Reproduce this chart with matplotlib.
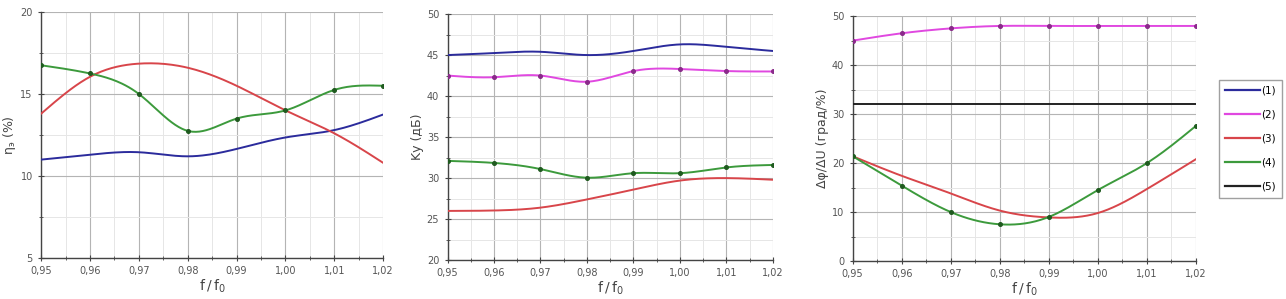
# frequency characteristics: efficiency, gain, phase/amplitude ratio

import numpy as np
import matplotlib
matplotlib.use('Agg')
import matplotlib.pyplot as plt
from matplotlib.ticker import FuncFormatter, MultipleLocator
from matplotlib.lines import Line2D

plt.rcParams['font.family'] = ['DejaVu Sans']

f_ratio = [0.95, 0.96, 0.97, 0.98, 0.99, 1.00, 1.01, 1.02]

# efficiency, %
eta_1 = [11.0, 11.3, 11.45, 11.2, 11.65, 12.35, 12.8, 13.75]
eta_3 = [13.8, 16.05, 16.85, 16.6, 15.5, 14.0, 12.6, 10.8]
eta_4 = [16.75, 16.25, 15.0, 12.75, 13.5, 14.0, 15.25, 15.5]

# gain Ky, dB
ky_1 = [45.0, 45.25, 45.4, 45.0, 45.5, 46.3, 46.0, 45.5]
ky_2 = [42.5, 42.3, 42.5, 41.75, 43.05, 43.3, 43.05, 43.0]
ky_3 = [26.0, 26.05, 26.4, 27.4, 28.6, 29.7, 30.0, 29.8]
ky_4 = [32.1, 31.85, 31.1, 30.05, 30.6, 30.6, 31.3, 31.6]

# phase / amplitude ratio, deg/%
dp_2 = [45.0, 46.5, 47.5, 48.0, 48.0, 48.0, 48.0, 48.0]
dp_3 = [21.4, 17.4, 13.8, 10.3, 8.9, 9.8, 14.7, 20.8]
dp_4 = [21.4, 15.4, 10.0, 7.5, 9.0, 14.5, 20.0, 27.6]
dp_5 = 32.0

legend_labels = ['(1)', '(2)', '(3)', '(4)', '(5)']
colors = {1: '#2b2b9c', 2: '#e048e0', 3: '#d8454a', 4: '#3c9a3c', 5: '#222222'}
marker_colors = {2: '#8a2a8a', 4: '#1f5a1f'}


def spline(x, y, n=200):
    """natural cubic spline, for drawing smooth curves through the points"""
    x = np.asarray(x, float)
    y = np.asarray(y, float)
    k = len(x)
    h = np.diff(x)
    A = np.zeros((k, k))
    b = np.zeros(k)
    A[0, 0] = A[-1, -1] = 1
    for i in range(1, k - 1):
        A[i, i - 1] = h[i - 1]
        A[i, i] = 2 * (h[i - 1] + h[i])
        A[i, i + 1] = h[i]
        b[i] = 3 * ((y[i + 1] - y[i]) / h[i] - (y[i] - y[i - 1]) / h[i - 1])
    c = np.linalg.solve(A, b)
    xs = np.linspace(x[0], x[-1], n)
    ys = np.empty_like(xs)
    for j, xv in enumerate(xs):
        i = min(np.searchsorted(x, xv, side='right') - 1, k - 2)
        dx = xv - x[i]
        bb = (y[i + 1] - y[i]) / h[i] - h[i] * (2 * c[i] + c[i + 1]) / 3
        d = (c[i + 1] - c[i]) / (3 * h[i])
        ys[j] = y[i] + bb * dx + c[i] * dx ** 2 + d * dx ** 3
    return xs, ys


def draw(ax, y, num):
    xs, ys = spline(f_ratio, y)
    ax.plot(xs, ys, color=colors[num], lw=1.4, zorder=3)
    if num in marker_colors:
        ax.plot(f_ratio, y, 'o', ms=2.6, color=marker_colors[num], zorder=4)


def style(ax, ylim, ystep, ylabel):
    ax.set_xlim(0.95, 1.02)
    ax.set_ylim(*ylim)
    ax.xaxis.set_major_locator(MultipleLocator(0.01))
    ax.xaxis.set_minor_locator(MultipleLocator(0.005))
    ax.yaxis.set_major_locator(MultipleLocator(ystep))
    ax.yaxis.set_minor_locator(MultipleLocator(ystep / 2))
    ax.xaxis.set_major_formatter(FuncFormatter(lambda v, p: f'{v:.2f}'.replace('.', ',')))
    ax.yaxis.set_major_formatter(FuncFormatter(lambda v, p: f'{v:g}'))
    ax.grid(which='major', color='#b4b4b4', lw=0.8)
    ax.grid(which='minor', color='#e6e6e6', lw=0.7)
    for s in ('top', 'right'):
        ax.spines[s].set_visible(False)
    for s in ('left', 'bottom'):
        ax.spines[s].set_color('#444444')
        ax.spines[s].set_linewidth(1.0)
    ax.tick_params(which='major', direction='inout', length=5, width=0.8,
                   labelsize=7, colors='#444444', labelcolor='#555555')
    ax.tick_params(which='minor', direction='inout', length=3, width=0.6, colors='#444444')
    ax.set_ylabel(ylabel, fontsize=9, color='#444444', labelpad=2)
    ax.set_xlabel(r'$\mathregular{f\,/\,f_0}$', fontsize=10, color='#444444', labelpad=1)


fig = plt.figure(figsize=(12.86, 2.99), dpi=100)

ax1 = fig.add_axes([0.032, 0.137, 0.266, 0.823])
draw(ax1, eta_1, 1)
draw(ax1, eta_3, 3)
draw(ax1, eta_4, 4)
style(ax1, (5, 20), 5, r'$\mathregular{\eta_{э}}$ (%)')

ax2 = fig.add_axes([0.348, 0.130, 0.253, 0.823])
draw(ax2, ky_1, 1)
draw(ax2, ky_2, 2)
draw(ax2, ky_3, 3)
draw(ax2, ky_4, 4)
style(ax2, (20, 50), 5, 'Kу (дБ)')

ax3 = fig.add_axes([0.663, 0.127, 0.267, 0.819])
draw(ax3, dp_2, 2)
draw(ax3, dp_3, 3)
draw(ax3, dp_4, 4)
ax3.axhline(dp_5, color=colors[5], lw=1.4, zorder=3)
style(ax3, (0, 50), 10, 'Δφ/ΔU (град/%)')

handles = [Line2D([], [], color=colors[i], lw=1.6) for i in range(1, 6)]
fig.legend(handles, legend_labels, loc='upper left', bbox_to_anchor=(0.948, 0.733),
           fontsize=7.5, frameon=True, fancybox=False, edgecolor='#888888',
           handlelength=3.4, handletextpad=0.1, labelspacing=1.35,
           borderpad=0.55, borderaxespad=0)

fig.savefig('out.png', dpi=100)
